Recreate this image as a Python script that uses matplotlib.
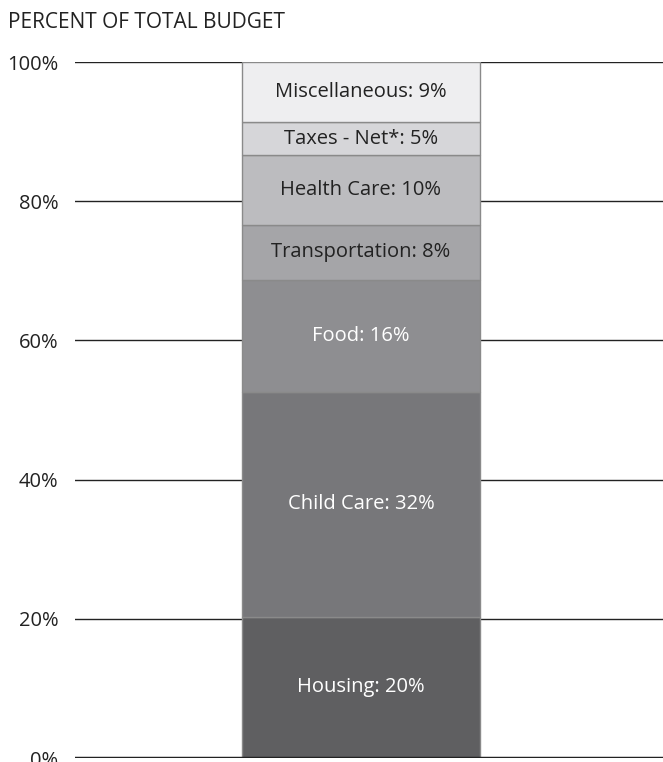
import matplotlib.pyplot as plt

categories = ['Housing', 'Child Care', 'Food', 'Transportation',
              'Health Care', 'Taxes - Net*', 'Miscellaneous']
values = [20.3, 32.3, 16.1, 7.9, 10.0, 4.8, 8.6]   # segment heights as drawn
labels_pct = [20, 32, 16, 8, 10, 5, 9]               # rounded values in labels
colors = ['#5f5f61', '#77777a', '#8e8e91', '#a5a5a8',
          '#bcbcbf', '#d6d6d9', '#eeeef0']
text_colors = ['white', 'white', 'white', '#222222',
               '#222222', '#222222', '#222222']
ticks = [0, 20, 40, 60, 80, 100]

plt.rcParams['font.family'] = ['Open Sans', 'DejaVu Sans']

fig = plt.figure(figsize=(6.63, 7.62), dpi=100)
W, H = 663, 762
ax = fig.add_axes([75 / W, 4 / H, 1 - 75 / W, (758 - 62) / H])

# grid lines behind the bar
for t in ticks[1:]:
    ax.axhline(t, color='#222222', lw=1, zorder=0)
ax.axhline(0, color='#222222', lw=2.5, zorder=3)

bottom = 0
for cat, v, p, c, tc in zip(categories, values, labels_pct, colors, text_colors):
    ax.bar(0, v, bottom=bottom, width=1, color=c, edgecolor='#8a8a8a',
           linewidth=1, zorder=2)
    ax.text(0, bottom + v / 2, f'{cat}: {p}%', ha='center', va='center',
            color=tc, fontsize=14.5, zorder=4)
    bottom += v

# bar spans 242..480 px, axes spans 75..663 px
ax.set_xlim(-(242 - 75) / 238 - 0.5, (663 - 480) / 238 + 0.5)
ax.set_ylim(0, 100)
ax.set_yticks(ticks)
ax.set_yticklabels([f'{t}%' for t in ticks], fontsize=14.5, color='#222222')
ax.tick_params(axis='y', length=0, pad=12)
ax.set_xticks([])
for s in ax.spines.values():
    s.set_visible(False)

fig.text(8 / W, 1 - 22 / H, 'PERCENT OF TOTAL BUDGET', fontsize=15,
         color='#222222', va='center', ha='left')

fig.savefig('out.png', dpi=100)
